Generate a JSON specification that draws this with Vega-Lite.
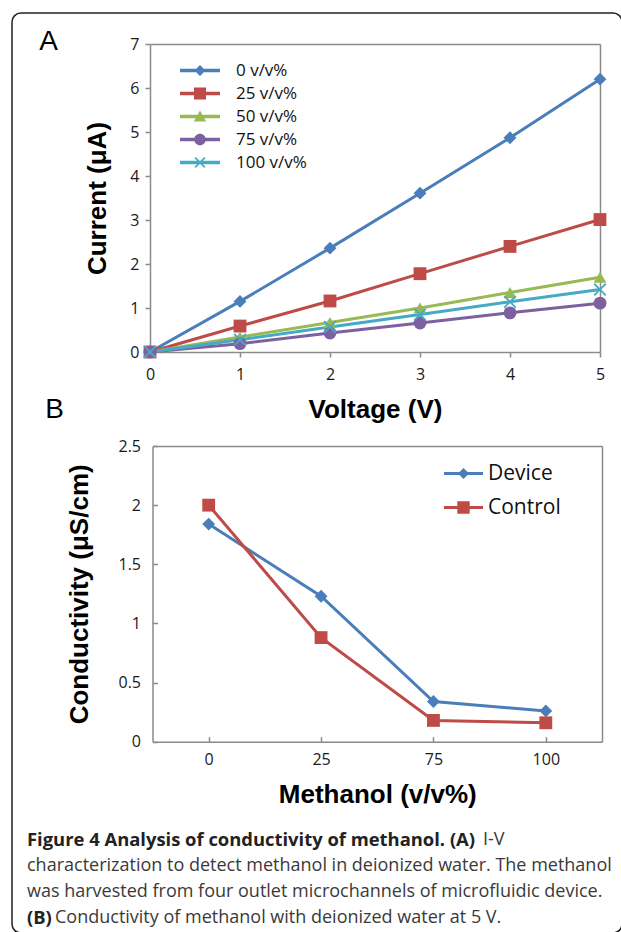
{
  "$schema": "https://vega.github.io/schema/vega-lite/v6.json",
  "width": 610,
  "height": 920,
  "autosize": {"type": "none"},
  "padding": {"left": 12, "top": 13, "right": 0, "bottom": 0},
  "background": "#ffffff",
  "config": {
    "view": {"stroke": "#222222", "strokeWidth": 1.5, "cornerRadius": 9},
    "axis": {
      "grid": false, "domainColor": "#8a8a8a", "domainWidth": 1.5,
      "tickColor": "#8a8a8a", "tickWidth": 1.5,
      "labelFont": "Open Sans", "labelFontSize": 16, "labelColor": "#1a1a1a", "labelFlush": false,
      "titleFont": "Liberation Sans", "titleFontSize": 26, "titleFontWeight": "bold", "titleColor": "#000000"
    },
    "legend": {"labelFont": "Open Sans", "labelColor": "#111111"}
  },
  "layer": [
    {
      "data": {"values": [
        {"series": "0 v/v%", "voltage": 0, "current": 0},
        {"series": "0 v/v%", "voltage": 1, "current": 1.15},
        {"series": "0 v/v%", "voltage": 2, "current": 2.36},
        {"series": "0 v/v%", "voltage": 3, "current": 3.61},
        {"series": "0 v/v%", "voltage": 4, "current": 4.87},
        {"series": "0 v/v%", "voltage": 5, "current": 6.2},
        {"series": "25 v/v%", "voltage": 0, "current": 0},
        {"series": "25 v/v%", "voltage": 1, "current": 0.59},
        {"series": "25 v/v%", "voltage": 2, "current": 1.16},
        {"series": "25 v/v%", "voltage": 3, "current": 1.78},
        {"series": "25 v/v%", "voltage": 4, "current": 2.4},
        {"series": "25 v/v%", "voltage": 5, "current": 3.01},
        {"series": "50 v/v%", "voltage": 0, "current": 0},
        {"series": "50 v/v%", "voltage": 1, "current": 0.34},
        {"series": "50 v/v%", "voltage": 2, "current": 0.67},
        {"series": "50 v/v%", "voltage": 3, "current": 1.0},
        {"series": "50 v/v%", "voltage": 4, "current": 1.35},
        {"series": "50 v/v%", "voltage": 5, "current": 1.7},
        {"series": "75 v/v%", "voltage": 0, "current": 0},
        {"series": "75 v/v%", "voltage": 1, "current": 0.19},
        {"series": "75 v/v%", "voltage": 2, "current": 0.43},
        {"series": "75 v/v%", "voltage": 3, "current": 0.66},
        {"series": "75 v/v%", "voltage": 4, "current": 0.89},
        {"series": "75 v/v%", "voltage": 5, "current": 1.11},
        {"series": "100 v/v%", "voltage": 0, "current": 0},
        {"series": "100 v/v%", "voltage": 1, "current": 0.28},
        {"series": "100 v/v%", "voltage": 2, "current": 0.57},
        {"series": "100 v/v%", "voltage": 3, "current": 0.85},
        {"series": "100 v/v%", "voltage": 4, "current": 1.14},
        {"series": "100 v/v%", "voltage": 5, "current": 1.42}
      ]},
      "layer": [
        {
          "mark": {"type": "line", "strokeWidth": 3},
          "encoding": {
            "x": {"field": "voltage", "type": "quantitative", "scale": {"domain": [0, 5], "range": [138, 588]},
              "axis": {"orient": "bottom", "offset": -581, "values": [0, 1, 2, 3, 4, 5], "tickSize": 5, "labelPadding": 9, "title": "Voltage (V)", "titlePadding": 14}},
            "y": {"field": "current", "type": "quantitative", "scale": {"domain": [0, 7], "range": [339, 31]},
              "axis": {"orient": "left", "offset": -138, "values": [0, 1, 2, 3, 4, 5, 6, 7], "tickSize": 5, "labelPadding": 6, "title": "Current (μA)", "titlePadding": 19}},
            "color": {"field": "series", "type": "nominal",
              "scale": {"domain": ["0 v/v%", "25 v/v%", "50 v/v%", "75 v/v%", "100 v/v%"], "range": ["#4A7EBB", "#BE4B48", "#98B954", "#7D60A0", "#46AAC5"]}, "legend": null}
          }
        },
        {
          "mark": {"type": "point", "filled": true, "opacity": 1, "size": 165},
          "encoding": {
            "x": {"field": "voltage", "type": "quantitative", "scale": {"domain": [0, 5], "range": [138, 588]}, "axis": null},
            "y": {"field": "current", "type": "quantitative", "scale": {"domain": [0, 7], "range": [339, 31]}, "axis": null},
            "color": {"field": "series", "type": "nominal",
              "scale": {"domain": ["0 v/v%", "25 v/v%", "50 v/v%", "75 v/v%", "100 v/v%"], "range": ["#4A7EBB", "#BE4B48", "#98B954", "#7D60A0", "#46AAC5"]}, "legend": null},
            "shape": {"field": "series", "type": "nominal",
              "scale": {"domain": ["0 v/v%", "25 v/v%", "50 v/v%", "75 v/v%", "100 v/v%"], "range": ["diamond", "square", "triangle-up", "circle", "M0,-0.2L0.8,-1L1,-0.8L0.2,0L1,0.8L0.8,1L0,0.2L-0.8,1L-1,0.8L-0.2,0L-1,-0.8L-0.8,-1Z"]}, "legend": null}
          }
        },
        {
          "data": {"values": []},
          "mark": {"type": "point", "filled": true, "opacity": 1},
          "encoding": {
            "x": {"field": "voltage", "type": "quantitative", "scale": {"domain": [0, 5], "range": [138, 588]},
              "axis": {"orient": "top", "offset": -31, "ticks": false, "labels": false, "title": "A", "titleX": 36, "titleY": -3, "titleAlign": "center", "titleBaseline": "middle", "titleFontWeight": "normal", "titleFontSize": 28, "titleAngle": 0}},
            "y": {"field": "current", "type": "quantitative", "scale": {"domain": [0, 7], "range": [339, 31]},
              "axis": {"orient": "right", "offset": -22, "ticks": false, "labels": false, "title": null}},
            "color": {"field": "series", "type": "nominal",
              "scale": {"domain": ["0 v/v%", "25 v/v%", "50 v/v%", "75 v/v%", "100 v/v%"], "range": ["#4A7EBB", "#BE4B48", "#98B954", "#7D60A0", "#46AAC5"]},
              "legend": {"orient": "none", "direction": "vertical", "legendX": 178, "legendY": 47.5, "title": null, "symbolSize": 400, "symbolStrokeWidth": 0, "labelFontSize": 17, "labelOffset": 26, "rowPadding": 5}},
            "shape": {"field": "series", "type": "nominal",
              "scale": {"domain": ["0 v/v%", "25 v/v%", "50 v/v%", "75 v/v%", "100 v/v%"], "range": [
                "M-2,-0.17H2V0.17H-2Z M0,-0.55L0.55,0L0,0.55L-0.55,0Z",
                "M-2,-0.17H2V0.17H-2Z M-0.6,-0.6H0.6V0.6H-0.6Z",
                "M-2,-0.17H2V0.17H-2Z M0,-0.6L0.62,0.5H-0.62Z",
                "M-2,-0.17H2V0.17H-2Z M0.58,0A0.58,0.58 0 1,1 -0.58,0A0.58,0.58 0 1,1 0.58,0Z",
                "M-2,-0.17H2V0.17H-2Z M0,-0.12L0.43,-0.55L0.55,-0.43L0.12,0L0.55,0.43L0.43,0.55L0,0.12L-0.43,0.55L-0.55,0.43L-0.12,0L-0.55,-0.43L-0.43,-0.55Z"
              ]},
              "legend": {"orient": "none", "direction": "vertical", "legendX": 178, "legendY": 47.5, "title": null, "symbolSize": 400, "symbolStrokeWidth": 0, "labelFontSize": 17, "labelOffset": 26, "rowPadding": 5}}
          }
        }
      ],
      "resolve": {"scale": {"color": "independent", "shape": "independent"}, "axis": {"x": "independent", "y": "independent"}}
    },
    {
      "data": {"values": [
        {"sample": "Device", "methanol": "0", "conductivity": 1.84},
        {"sample": "Device", "methanol": "25", "conductivity": 1.23},
        {"sample": "Device", "methanol": "75", "conductivity": 0.34},
        {"sample": "Device", "methanol": "100", "conductivity": 0.26},
        {"sample": "Control", "methanol": "0", "conductivity": 2.0},
        {"sample": "Control", "methanol": "25", "conductivity": 0.88},
        {"sample": "Control", "methanol": "75", "conductivity": 0.18},
        {"sample": "Control", "methanol": "100", "conductivity": 0.16}
      ]},
      "layer": [
        {
          "mark": {"type": "line", "strokeWidth": 3},
          "encoding": {
            "x": {"field": "methanol", "type": "ordinal", "sort": null, "scale": {"type": "point", "domain": ["0", "25", "75", "100"], "range": [140.5, 590], "padding": 0.5},
              "axis": {"orient": "bottom", "offset": -191.3, "tickSize": -5, "labelPadding": 15, "labelAngle": 0, "title": "Methanol (v/v%)", "titlePadding": 14}},
            "y": {"field": "conductivity", "type": "quantitative", "scale": {"domain": [0, 2.5], "range": [728.7, 433]},
              "axis": {"orient": "left", "offset": -140.5, "values": [0, 0.5, 1, 1.5, 2, 2.5], "format": "~g", "tickSize": -5, "labelPadding": 17, "title": "Conductivity (μS/cm)", "titlePadding": 26}},
            "color": {"field": "sample", "type": "nominal", "scale": {"domain": ["Device", "Control"], "range": ["#4A7EBB", "#BE4B48"]}, "legend": null}
          }
        },
        {
          "mark": {"type": "point", "filled": true, "opacity": 1, "size": 165},
          "encoding": {
            "x": {"field": "methanol", "type": "ordinal", "sort": null, "scale": {"type": "point", "domain": ["0", "25", "75", "100"], "range": [140.5, 590], "padding": 0.5}, "axis": null},
            "y": {"field": "conductivity", "type": "quantitative", "scale": {"domain": [0, 2.5], "range": [728.7, 433]}, "axis": null},
            "color": {"field": "sample", "type": "nominal", "scale": {"domain": ["Device", "Control"], "range": ["#4A7EBB", "#BE4B48"]}, "legend": null},
            "shape": {"field": "sample", "type": "nominal", "scale": {"domain": ["Device", "Control"], "range": ["diamond", "square"]}, "legend": null}
          }
        },
        {
          "data": {"values": []},
          "mark": {"type": "point", "filled": true, "opacity": 1},
          "encoding": {
            "x": {"field": "methanol", "type": "ordinal", "sort": null, "scale": {"type": "point", "domain": ["0", "25", "75", "100"], "range": [140.5, 590], "padding": 0.5},
              "axis": {"orient": "top", "offset": -433, "ticks": false, "labels": false, "title": "B", "titleX": 42, "titleY": -37, "titleAlign": "center", "titleBaseline": "middle", "titleFontWeight": "normal", "titleFontSize": 28, "titleAngle": 0}},
            "y": {"field": "conductivity", "type": "quantitative", "scale": {"domain": [0, 2.5], "range": [728.7, 433]},
              "axis": {"orient": "right", "offset": -20, "ticks": false, "labels": false, "title": null}},
            "color": {"field": "sample", "type": "nominal", "scale": {"domain": ["Device", "Control"], "range": ["#4A7EBB", "#BE4B48"]},
              "legend": {"orient": "none", "direction": "vertical", "legendX": 441, "legendY": 450, "title": null, "symbolSize": 400, "symbolStrokeWidth": 0, "labelFontSize": 21, "labelOffset": 14, "rowPadding": 12}},
            "shape": {"field": "sample", "type": "nominal", "scale": {"domain": ["Device", "Control"], "range": [
                "M-1.95,-0.16H1.95V0.16H-1.95Z M0,-0.55L0.55,0L0,0.55L-0.55,0Z",
                "M-1.95,-0.16H1.95V0.16H-1.95Z M-0.62,-0.62H0.62V0.62H-0.62Z"
              ]},
              "legend": {"orient": "none", "direction": "vertical", "legendX": 441, "legendY": 450, "title": null, "symbolSize": 400, "symbolStrokeWidth": 0, "labelFontSize": 21, "labelOffset": 14, "rowPadding": 12}}
          }
        }
      ],
      "resolve": {"scale": {"color": "independent", "shape": "independent"}, "axis": {"x": "independent", "y": "independent"}}
    },
    {
      "layer": [
        {
          "data": {"values": [
            {"line": 1, "t": "Figure 4 Analysis of conductivity of methanol. (A)"},
            {"line": 4, "t": "(B)"}
          ]},
          "mark": {"type": "text", "align": "left", "baseline": "middle", "font": "Open Sans", "fontSize": 18.4, "fontWeight": "bold", "color": "#222222"},
          "encoding": {
            "x": {"datum": 0, "type": "quantitative", "scale": {"domain": [0, 1], "range": [15, 600]}, "axis": null},
            "y": {"field": "line", "type": "ordinal", "scale": {"type": "point", "domain": [1, 2, 3, 4], "range": [827, 905], "padding": 0}, "axis": null},
            "text": {"field": "t"}
          }
        },
        {
          "data": {"values": [{"line": 1, "t": "I-V"}]},
          "mark": {"type": "text", "align": "left", "baseline": "middle", "font": "Open Sans", "fontSize": 18, "color": "#3a3a3a", "dx": 456},
          "encoding": {
            "x": {"datum": 0, "type": "quantitative", "scale": {"domain": [0, 1], "range": [15, 600]}, "axis": null},
            "y": {"field": "line", "type": "ordinal", "scale": {"type": "point", "domain": [1, 2, 3, 4], "range": [827, 905], "padding": 0}, "axis": null},
            "text": {"field": "t"}
          }
        },
        {
          "data": {"values": [
            {"line": 2, "t": "characterization to detect methanol in deionized water. The methanol"},
            {"line": 3, "t": "was harvested from four outlet microchannels of microfluidic device."}
          ]},
          "mark": {"type": "text", "align": "left", "baseline": "middle", "font": "Open Sans", "fontSize": 18, "color": "#3a3a3a"},
          "encoding": {
            "x": {"datum": 0, "type": "quantitative", "scale": {"domain": [0, 1], "range": [15, 600]}, "axis": null},
            "y": {"field": "line", "type": "ordinal", "scale": {"type": "point", "domain": [1, 2, 3, 4], "range": [827, 905], "padding": 0}, "axis": null},
            "text": {"field": "t"}
          }
        },
        {
          "data": {"values": [{"line": 4, "t": "Conductivity of methanol with deionized water at 5 V."}]},
          "mark": {"type": "text", "align": "left", "baseline": "middle", "font": "Open Sans", "fontSize": 18, "color": "#3a3a3a", "dx": 28},
          "encoding": {
            "x": {"datum": 0, "type": "quantitative", "scale": {"domain": [0, 1], "range": [15, 600]}, "axis": null},
            "y": {"field": "line", "type": "ordinal", "scale": {"type": "point", "domain": [1, 2, 3, 4], "range": [827, 905], "padding": 0}, "axis": null},
            "text": {"field": "t"}
          }
        }
      ]
    }
  ],
  "resolve": {
    "scale": {"x": "independent", "y": "independent", "color": "independent", "shape": "independent"},
    "axis": {"x": "independent", "y": "independent"},
    "legend": {"color": "independent", "shape": "independent"}
  }
}
